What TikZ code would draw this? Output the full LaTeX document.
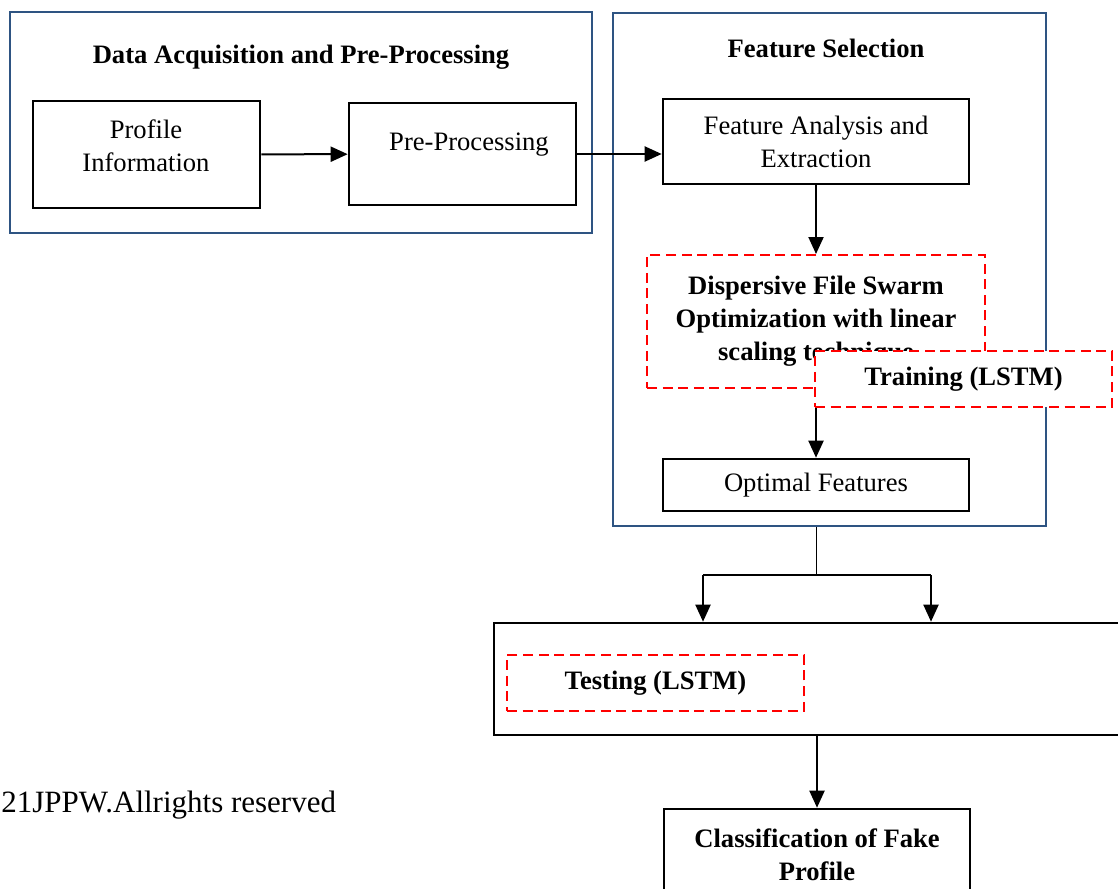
\documentclass[tikz,border=0pt]{standalone}
\usepackage{fontspec}
\setmainfont{Liberation Serif}
\usetikzlibrary{arrows.meta}
\definecolor{grpblue}{RGB}{46,84,130}
\definecolor{dashred}{RGB}{255,0,0}

\begin{document}
\begin{tikzpicture}[x=0.5pt,y=-0.5pt,
    txt/.style={font=\fontsize{13.3}{16.5}\selectfont, align=center},
    bold/.style={font=\fontsize{13.3}{16.5}\selectfont\bfseries, align=center},
    grp/.style={draw=grpblue, line width=1pt, inner sep=0pt},
    blk/.style={draw, line width=1.3pt, inner sep=0pt},
    dsh/.style={draw=dashred, fill=white, line width=1pt,
      dash pattern=on 5pt off 2.8pt, inner sep=0pt},
    arr/.style={line width=1pt, -{Triangle[length=8.5pt,width=7.5pt]}}]
  \useasboundingbox (0,0) rectangle (1118,888);
  \clip (0,0) rectangle (1118,888);

  % the two groups
  \node[grp, minimum width=291pt, minimum height=110.5pt] (grpA) at (301,122.5) {};
  \node[bold] (grpAtitle) at (301,57) {Data Acquisition and Pre-Processing};
  \node[grp, minimum width=216.5pt, minimum height=256.5pt] (grpB) at (829.5,269.5) {};
  \node[bold] (grpBtitle) at (826,48) {Feature Selection};

  % data acquisition
  \node[blk, minimum width=113.5pt, minimum height=53.5pt] (prof) at (146.5,154.5) {};
  \node[txt] (profTxt) at (146,146) {Profile\\Information};
  \node[blk, minimum width=113.5pt, minimum height=51pt] (pre) at (462.5,154) {};
  \node[txt] (preTxt) at (469,145) {Pre-Processing};

  % feature selection
  \node[blk, txt, minimum width=153pt, minimum height=42.5pt] (feat) at (816,141.5)
    {Feature Analysis and\\Extraction};
  \node[dsh, bold, minimum width=169pt, minimum height=66.5pt] (disp) at (816,321.5)
    {Dispersive File Swarm\\Optimization with linear\\scaling technique};
  \node[blk, txt, minimum width=153pt, minimum height=26pt] (optf) at (816,485)
    {Optimal Features};

  \draw[arr] (prof) -- (pre);
  \draw[arr] (pre.east) -- (pre.east -| feat.west);
  \draw[arr] (feat) -- (disp);
  \draw[arr] (disp) -- (optf);

  \node[dsh, bold, minimum width=148.5pt, minimum height=28pt] (train) at (963.5,379)
    {Training (LSTM)};

  % model and result
  \node[blk, minimum width=318pt, minimum height=56pt] (model) at (812,679) {};
  \node[dsh, bold, minimum width=148.5pt, minimum height=28pt] (test) at (655.5,683)
    {Testing (LSTM)};
  \node[blk, bold, minimum width=153pt, minimum height=45.5pt] (cls) at (817,854.5)
    {Classification of Fake\\Profile};

  \coordinate (split) at (816,575);
  \coordinate (splitL) at (703,575);
  \coordinate (splitR) at (931,575);
  \draw[line width=0.5pt] (optf.south |- grpB.south) -- (split);
  \draw[line width=0.8pt] (splitL) -- (splitR);
  \draw[arr] (splitL) -- (splitL |- model.north);
  \draw[arr] (splitR) -- (splitR |- model.north);
  \draw[arr] (cls.north |- model.south) -- (cls.north);

  \node[anchor=base west, inner sep=0pt, font=\fontsize{15.5}{18}\selectfont] (note)
    at (1,812) {21JPPW.Allrights reserved};
\end{tikzpicture}
\end{document}
